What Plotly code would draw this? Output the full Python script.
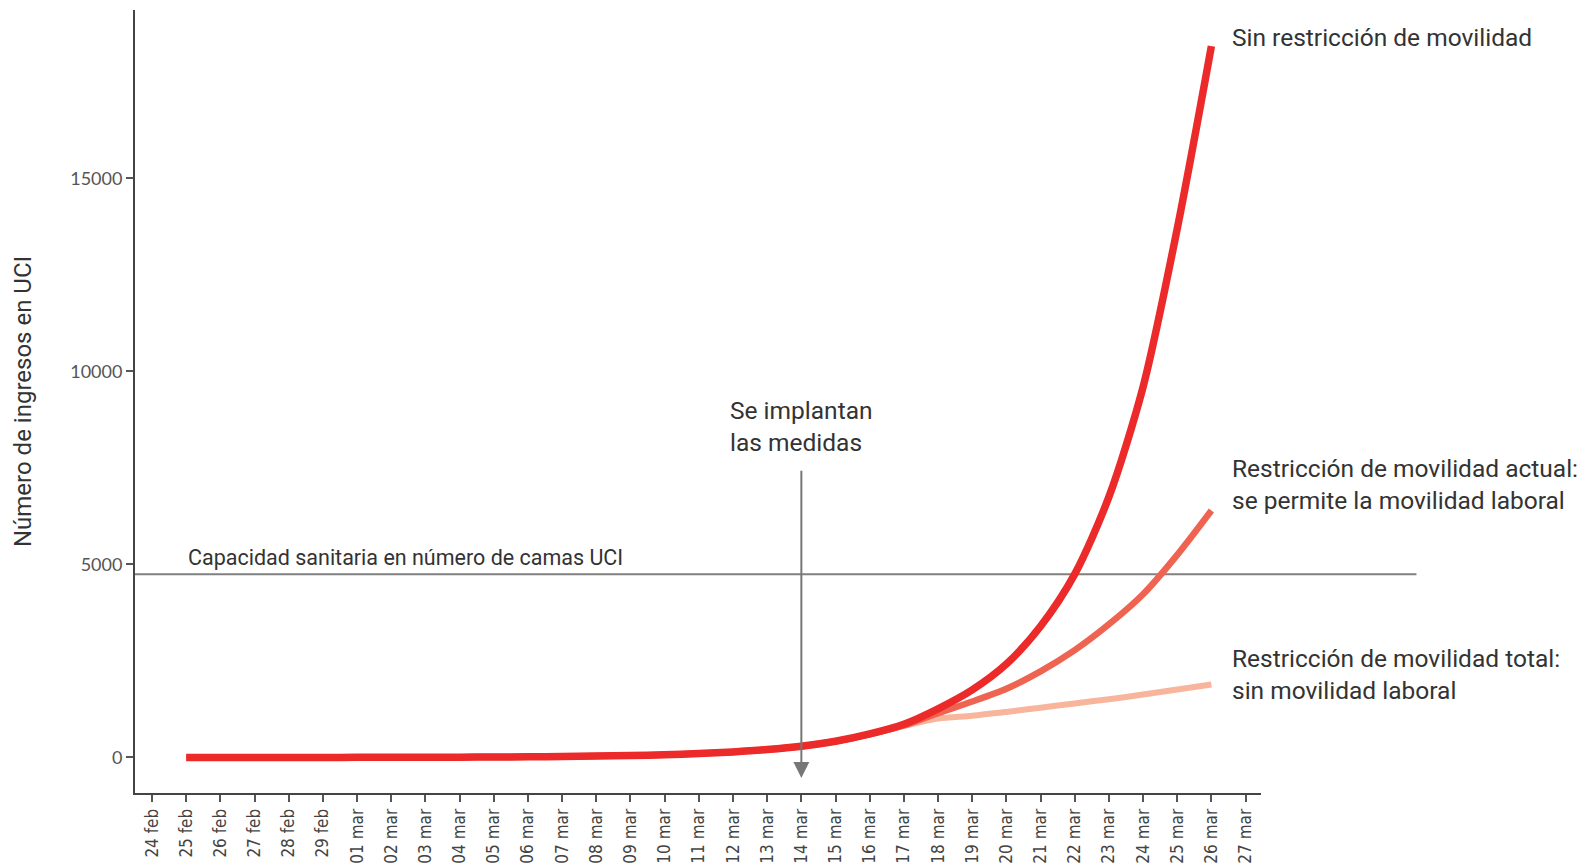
import pandas as pd
import plotly.graph_objects as go

# Daily ICU admissions projected under each mobility scenario (25 feb - 26 mar 2020)
dates = pd.date_range("2020-02-25", "2020-03-26", freq="D")

sin_restriccion = [1, 1, 1, 2, 2, 3, 5, 7, 9, 13, 18, 26, 36, 51, 72, 102,
                   145, 205, 290, 420, 610, 860, 1260, 1750, 2420, 3400,
                   4750, 6750, 9600, 13700, 18430]
restriccion_actual = [1, 1, 1, 2, 2, 3, 5, 7, 9, 13, 18, 26, 36, 51, 72, 102,
                      145, 205, 290, 420, 600, 830, 1150, 1450, 1780, 2230,
                      2780, 3450, 4230, 5250, 6400]
restriccion_total = [1, 1, 1, 2, 2, 3, 5, 7, 9, 13, 18, 26, 36, 51, 72, 102,
                     145, 205, 290, 420, 600, 820, 1010, 1080, 1180, 1290,
                     1400, 1510, 1630, 1760, 1890]

capacidad_uci = 4750
fecha_medidas = "2020-03-14"
tick_dates = pd.date_range("2020-02-24", "2020-03-27", freq="D")
mes = {2: "feb", 3: "mar"}
tick_text = [f"{d.day:02d} {mes[d.month]}" for d in tick_dates]
y_ticks = [0, 5000, 10000, 15000]
y_tick_text = [str(v) for v in y_ticks]

x_range = [pd.Timestamp("2020-02-23 12:00"), pd.Timestamp("2020-03-27 10:50")]
y_range = [-920, 19365]
capacity_end = pd.Timestamp("2020-04-01")

TEXT = "#333333"
FONT = "Roboto"

fig = go.Figure()
fig.add_trace(go.Scatter(x=dates, y=restriccion_total, mode="lines",
                         line=dict(color="#f8b59b", width=6, shape="spline", smoothing=0.8),
                         hoverinfo="skip"))
fig.add_trace(go.Scatter(x=dates, y=restriccion_actual, mode="lines",
                         line=dict(color="#ef6351", width=6.5, shape="spline", smoothing=0.8),
                         hoverinfo="skip"))
fig.add_trace(go.Scatter(x=dates, y=sin_restriccion, mode="lines",
                         line=dict(color="#ec2a2a", width=7.5, shape="spline", smoothing=0.8),
                         hoverinfo="skip"))

# capacity line runs past the end of the date axis
span = (x_range[1] - x_range[0]).total_seconds()
x1_paper = (capacity_end - x_range[0]).total_seconds() / span
fig.add_shape(type="line", xref="paper", yref="y", x0=0, x1=x1_paper,
              y0=capacidad_uci, y1=capacidad_uci,
              line=dict(color="#808080", width=2), layer="below")
fig.add_annotation(x=dates[0], y=capacidad_uci, xref="x", yref="y",
                   text="Capacidad sanitaria en número de camas UCI",
                   showarrow=False, xanchor="left", yanchor="bottom", yshift=2,
                   font=dict(family=FONT, size=21.5, color=TEXT))

# date on which the measures start
arrow_top = 7470
arrow_tip = -530
fig.add_annotation(x=fecha_medidas, y=arrow_tip, ax=fecha_medidas, ay=arrow_top,
                   xref="x", yref="y", axref="x", ayref="y", text="",
                   showarrow=True, arrowhead=2, arrowsize=1.6, arrowwidth=2,
                   arrowcolor="#777777")
fig.add_annotation(x=fecha_medidas, y=arrow_top, xref="x", yref="y",
                   text="Se implantan<br>las medidas", showarrow=False,
                   xanchor="center", yanchor="bottom", align="left", yshift=10,
                   font=dict(family=FONT, size=24.5, color=TEXT))

# series labels at the end of each line
labels = [
    (sin_restriccion[-1], "Sin restricción de movilidad", 9),
    (restriccion_actual[-1], "Restricción de movilidad actual:<br>se permite la movilidad laboral", 26),
    (restriccion_total[-1], "Restricción de movilidad total:<br>sin movilidad laboral", 10),
]
for yv, txt, ys in labels:
    fig.add_annotation(x=dates[-1], y=yv, xref="x", yref="y", text=txt,
                       showarrow=False, xanchor="left", yanchor="middle",
                       align="left", xshift=19, yshift=ys,
                       font=dict(family=FONT, size=24.5, color=TEXT))

fig.update_layout(
    width=1594, height=866,
    margin=dict(l=135, r=333, t=10, b=73),
    paper_bgcolor="white", plot_bgcolor="white",
    showlegend=False,
    xaxis=dict(type="date", range=x_range, tickvals=tick_dates, ticktext=tick_text,
               tickangle=-90, ticks="outside", ticklen=7, tickwidth=1.5,
               tickcolor="#555555", showline=True, linecolor="#444444", linewidth=2,
               showgrid=False, zeroline=False, automargin=False,
               tickfont=dict(family="Liberation Sans Narrow, DejaVu Sans Condensed", size=17, color="#444444")),
    yaxis=dict(range=y_range, tickvals=y_ticks, ticktext=y_tick_text, ticks="outside",
               ticklen=7, tickwidth=1.5, tickcolor="#555555", showline=True,
               linecolor="#444444", linewidth=2, showgrid=False, zeroline=False,
               automargin=False,
               tickfont=dict(family="Lato", size=18, color="#555555"),
               title=dict(text="Número de ingresos en UCI", standoff=32,
                          font=dict(family=FONT, size=24, color=TEXT))),
)

fig.write_html("out.html")
